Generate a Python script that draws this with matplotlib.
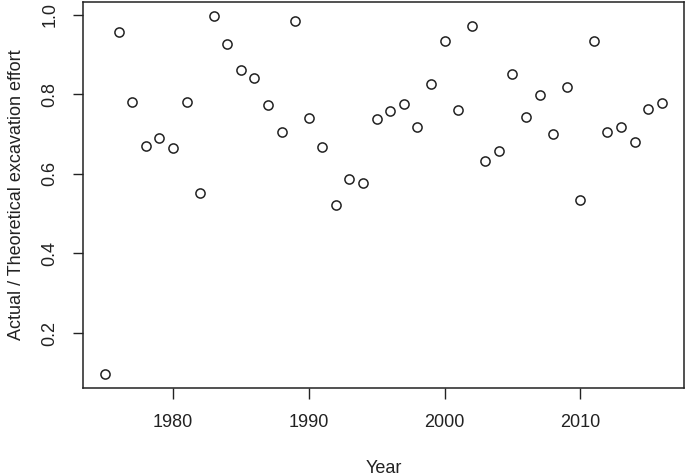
import matplotlib
matplotlib.use("Agg")
import matplotlib.pyplot as plt

years = list(range(1975, 2017))
ratio = [0.098, 0.956, 0.780, 0.671, 0.691, 0.664, 0.780, 0.551, 0.996, 0.926,
         0.862, 0.840, 0.774, 0.706, 0.985, 0.739, 0.668, 0.521, 0.586, 0.578,
         0.737, 0.758, 0.775, 0.717, 0.826, 0.933, 0.760, 0.971, 0.633, 0.657,
         0.852, 0.744, 0.798, 0.701, 0.818, 0.535, 0.933, 0.705, 0.717, 0.679,
         0.763, 0.779]
x_ticks = [1980, 1990, 2000, 2010]
y_ticks = [0.2, 0.4, 0.6, 0.8, 1.0]

plt.rcParams['font.family'] = ['Liberation Sans', 'DejaVu Sans']
ink = '#222222'
fs = 13

fig = plt.figure(figsize=(6.85, 4.76), dpi=100)
ax = fig.add_axes([0.121, 0.185, 0.8775, 0.811])

ax.plot(years, ratio, linestyle='none', marker='o', markersize=6.6,
        markerfacecolor='none', markeredgecolor=ink, markeredgewidth=1.1)

# R-style 4% padding around the data range
span_x = max(years) - min(years)
span_y = max(ratio) - min(ratio)
ax.set_xlim(min(years) - 0.04 * span_x, max(years) + 0.04 * span_x)
ax.set_ylim(min(ratio) - 0.04 * span_y, max(ratio) + 0.04 * span_y)

ax.set_xticks(x_ticks)
ax.set_xticklabels([str(t) for t in x_ticks])
ax.set_yticks(y_ticks)
ax.set_yticklabels([f"{t:.1f}" for t in y_ticks], rotation=90, va='center')

ax.tick_params(axis='x', direction='out', length=8, width=1, colors=ink,
               labelsize=fs, pad=11)
ax.tick_params(axis='y', direction='out', length=7.5, width=1, colors=ink,
               labelsize=fs, pad=10)
for s in ax.spines.values():
    s.set_color(ink)
    s.set_linewidth(1.1)

ax.set_xlabel('Year', fontsize=fs, color=ink, labelpad=21)
ax.set_ylabel('Actual / Theoretical excavation effort', fontsize=fs,
              color=ink, labelpad=12)

fig.savefig('out.png', dpi=100)
